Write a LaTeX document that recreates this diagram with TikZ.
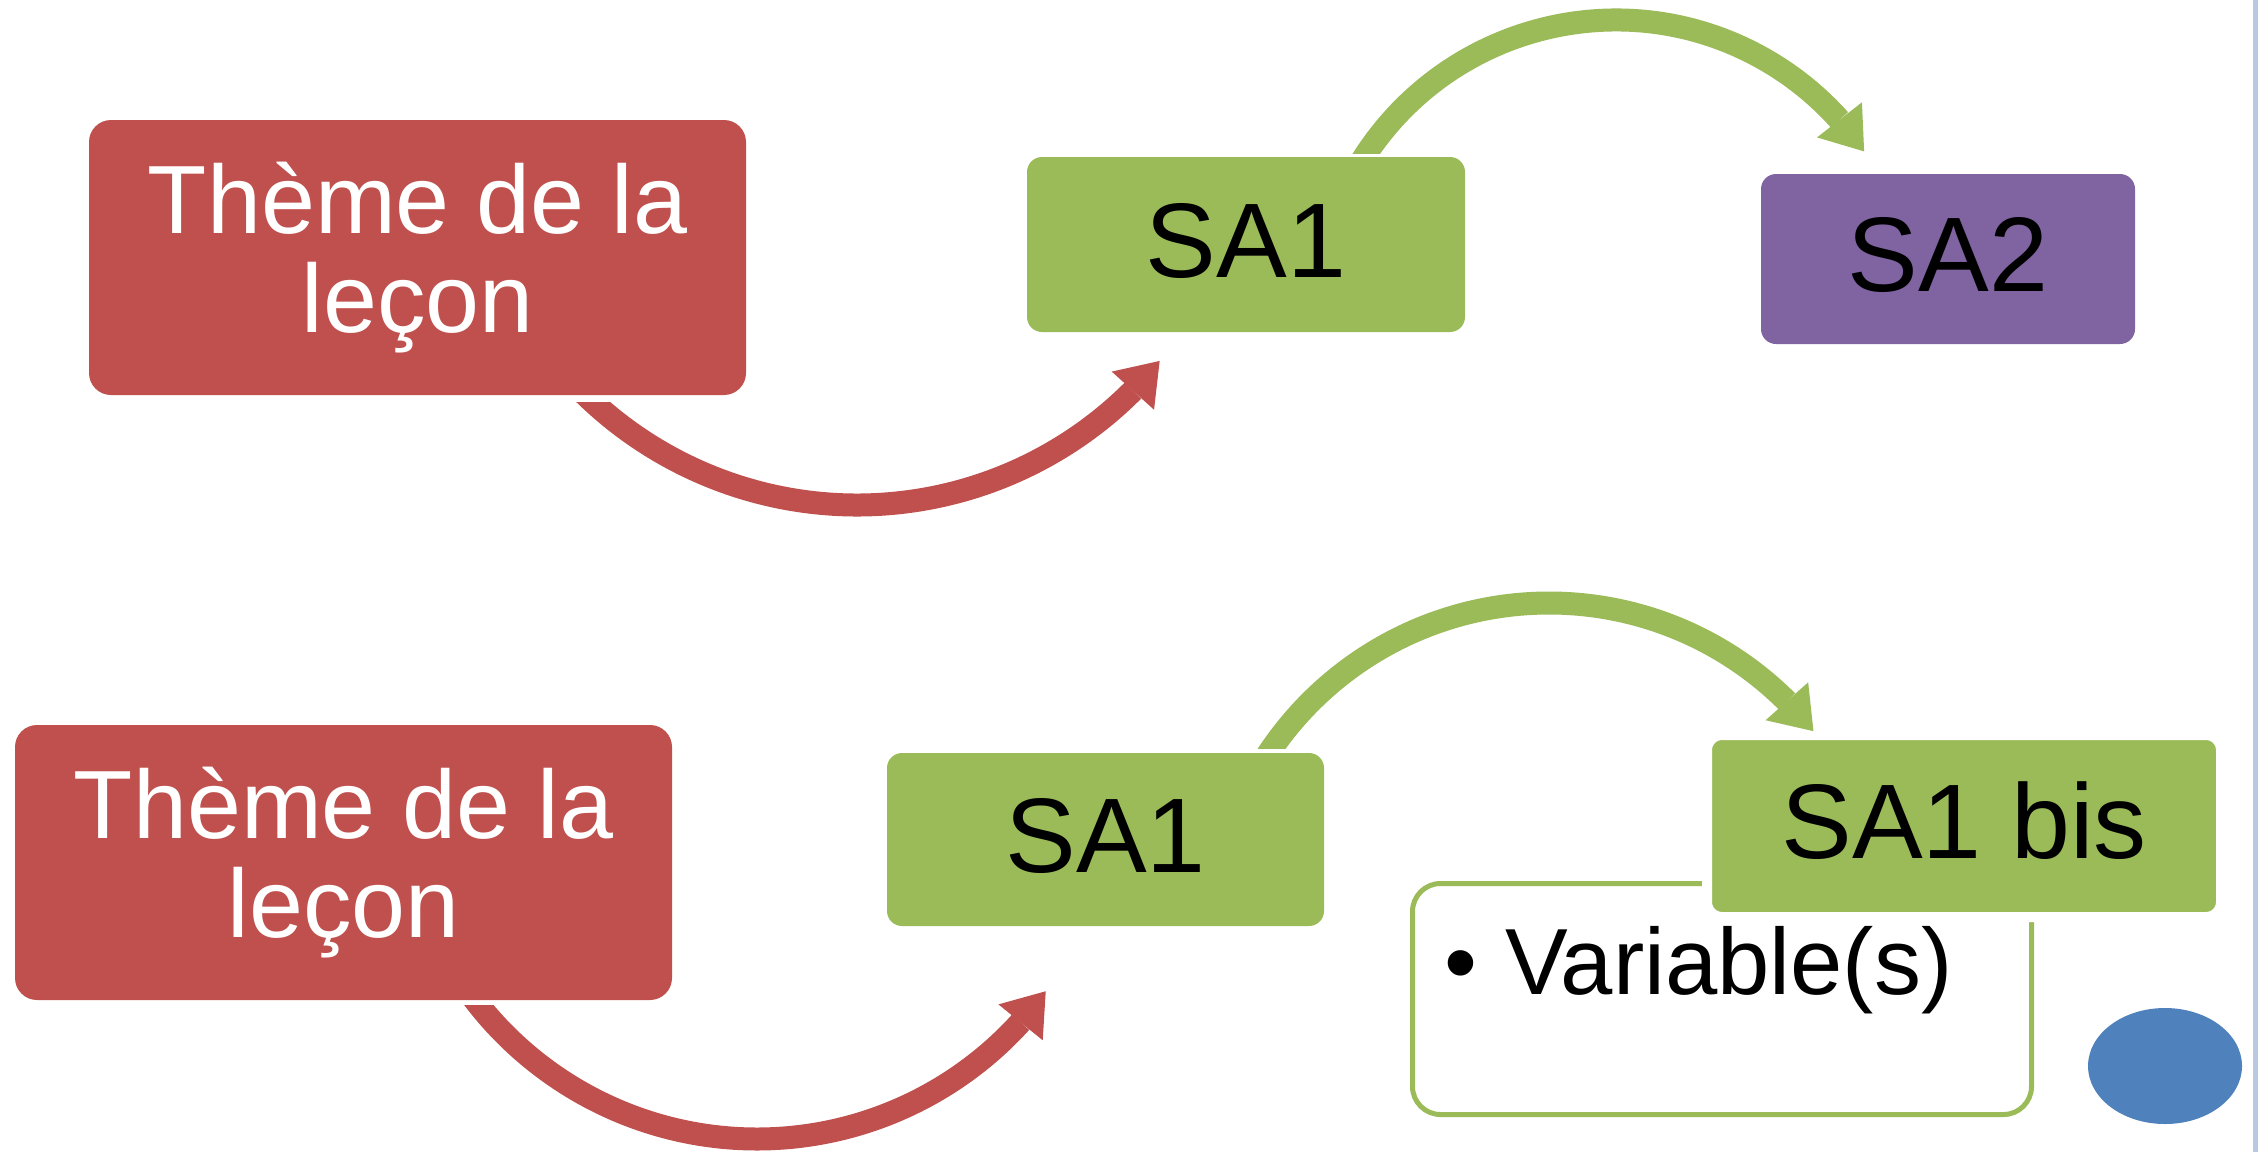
\documentclass[tikz,border=0pt]{standalone}
\usepackage{fontspec}
\setmainfont{Liberation Sans}
\usetikzlibrary{arrows.meta,bending,shapes.geometric}
\definecolor{cRed}{HTML}{C0504D}
\definecolor{cGreen}{HTML}{9BBB59}
\definecolor{cPurple}{HTML}{8064A2}
\definecolor{cBlue}{HTML}{4F81BD}
\definecolor{cEdge}{HTML}{B9C9E2}
\begin{document}
\begin{tikzpicture}[x=1pt,y=1pt,
  theme/.style={fill=cRed, rounded corners=22pt, minimum width=657pt, minimum height=275pt,
    inner sep=0pt, text=white, align=center, font=\fontsize{97}{99}\selectfont},
  sabox/.style={rounded corners=15pt, inner sep=0pt, font=\fontsize{106}{110}\selectfont,
    text height=77pt, text depth=12pt},
  bigarrow/.style={line width=23pt, -{Triangle[length=40pt,width=57pt,line width=0pt]}},
]
\useasboundingbox (0,0) rectangle (2259,-1152);
\fill[white] (0,0) rectangle (2259,-1152);
\fill[cEdge] (2253,0) rectangle (2258,-1152);

% top row
\node (theme1) [theme] at (417.5,-257.5) {Thème de la\\leçon};
\node (sa1a) [sabox, fill=cGreen, minimum width=438pt, minimum height=175pt] at (1246,-244.5) {SA1};
\node (sa2) [sabox, fill=cPurple, minimum width=374pt, minimum height=170pt] at (1948,-259) {SA2};

% bottom row
\node (theme2) [theme] at (343.5,-862.5) {Thème de la\\leçon};
\node (sa1b) [sabox, fill=cGreen, minimum width=437pt, minimum height=173pt] at (1105.5,-839.5) {SA1};
\node (var) [draw=cGreen, line width=5pt, fill=white, rounded corners=28pt,
  minimum width=619pt, minimum height=231pt, inner sep=0pt] at (1722,-999) {};
\node (vartxt) [anchor=base west, inner sep=0pt, font=\fontsize{94}{100}\selectfont]
  at (1444,-994) {•\hspace{28pt}Variable(s)};
\node (sa1bis) [sabox, fill=cGreen, draw=white, line width=10pt, minimum width=514pt,
  minimum height=182pt] at (1964,-826) {SA1 bis};
\node (dot) [ellipse, fill=cBlue, minimum width=154pt, minimum height=116pt, inner sep=0pt]
  at (2165,-1066) {};

% connectors
\coordinate (r1s) at ([shift={(857,-115)}]220:390);
\coordinate (g1s) at ([shift={(1616,-320)}]150:300);
\coordinate (g2s) at ([shift={(1549,-940)}]150:337);
\coordinate (r2s) at ([shift={(757,-783)}]212:356);

\begin{scope}
  \clip (0,-402) rectangle (700,-1152) (700,0) rectangle (2259,-1152);
  \draw[bigarrow, cRed] (r1s) arc[start angle=220, end angle=320.9, radius=390];
\end{scope}
\begin{scope}
  \clip (0,0) rectangle (2259,-153);
  \draw[bigarrow, cGreen] (g1s) arc[start angle=150, end angle=34.2, radius=300];
\end{scope}
\begin{scope}
  \clip (0,0) rectangle (2259,-748);
  \draw[bigarrow, cGreen] (g2s) arc[start angle=150, end angle=38.3, radius=337];
\end{scope}
\begin{scope}
  \clip (0,-1005) rectangle (600,-1200) (600,0) rectangle (2259,-1200);
  \draw[bigarrow, cRed] (r2s) arc[start angle=212, end angle=324.2, radius=356];
\end{scope}
\end{tikzpicture}
\end{document}
